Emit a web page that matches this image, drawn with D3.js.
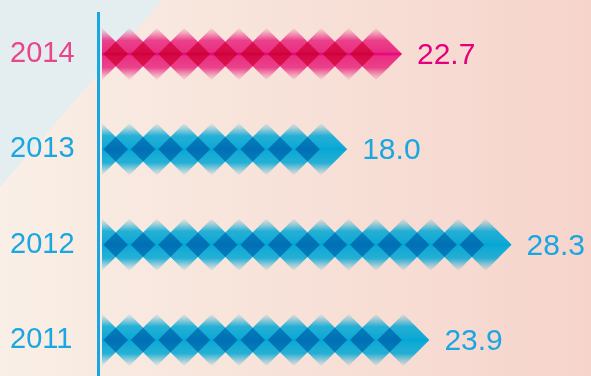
<!DOCTYPE html>
<html>
<head>
<meta charset="utf-8">
<script src="https://cdn.jsdelivr.net/npm/d3@7"></script>
<style>
  html, body { margin: 0; padding: 0; }
  svg { display: block; }
  text { font-family: "Liberation Sans", Arial, sans-serif; }
</style>
</head>
<body>
<div class="container"></div>
<script>
// data
const years = ['2014', '2013', '2012', '2011'];
const values = [22.7, 18.0, 28.3, 23.9];
const highlightYear = '2014';

const width = 591, height = 376;
const axisX = 98.5;
const barStart = 102;
const step = 27.4;   // spacing between diamonds
const half = 26;     // half size of one diamond

const pink = {label: '#e8458c', value: '#e4007c', fill: '#e8247c', mid: '#e4007e'};
const blue = {label: '#1aa7e1', value: '#1aa7e1', fill: '#00a6d4', mid: '#00a6d8'};

const svg = d3.select('.container')
    .append('svg')
    .attr('width', width)
    .attr('height', height);

const defs = svg.append('defs');

// background gradient, cream -> pink
const bg = defs.append('linearGradient').attr('id', 'bg')
    .attr('x1', 0).attr('x2', 1).attr('y1', 0).attr('y2', 0);
bg.append('stop').attr('offset', '0%').attr('stop-color', '#f9efe6');
bg.append('stop').attr('offset', '100%').attr('stop-color', '#f6d4cb');

svg.append('rect').attr('width', width).attr('height', height).attr('fill', 'url(#bg)');
svg.append('path')
    .attr('d', 'M0,0 L162,0 L0,187 Z')
    .attr('fill', '#e4eef0');

// diamond fill gradients, fading at top and bottom
function diamondGradient(id, c) {
    const g = defs.append('linearGradient').attr('id', id)
        .attr('x1', 0).attr('x2', 0).attr('y1', 0).attr('y2', 1);
    [[0, c.fill, 0.05], [0.1, c.fill, 0.35], [0.24, c.fill, 0.85], [0.46, c.fill, 0.95],
     [0.5, c.mid, 1], [0.54, c.fill, 0.95], [0.76, c.fill, 0.85], [0.9, c.fill, 0.35], [1, c.fill, 0.05]]
        .forEach(s => g.append('stop')
            .attr('offset', s[0]).attr('stop-color', s[1]).attr('stop-opacity', s[2]));
}
diamondGradient('gPink', pink);
diamondGradient('gBlue', blue);

// scales
const y = d3.scalePoint().domain(years).range([54, 340]);
// bar length from the axis, axis is cut at 10
const x = d3.scaleLinear().domain([10, 30]).range([barStart, 431]);

const rows = years.map((yr, i) => {
    const len = x(values[i]);
    const n = Math.round((len - half) / step) + 1; // whole diamonds only
    return {year: yr, value: values[i], n: n, tip: barStart + (n - 1) * step + half};
});

defs.append('clipPath').attr('id', 'barClip')
    .append('rect').attr('x', barStart).attr('y', 0).attr('width', width).attr('height', height);

const bars = svg.append('g').attr('clip-path', 'url(#barClip)')
    .selectAll('g')
    .data(rows)
    .enter().append('g')
    .attr('transform', d => `translate(0,${y(d.year)})`);

bars.selectAll('path')
    .data(d => d3.range(d.n).map(k => ({k: k, hi: d.year === highlightYear})))
    .enter().append('path')
    .attr('d', d => {
        const cx = barStart + d.k * step;
        return `M${cx - half},0 L${cx},${-half} L${cx + half},0 L${cx},${half} Z`;
    })
    .attr('fill', d => d.hi ? 'url(#gPink)' : 'url(#gBlue)')
    .style('mix-blend-mode', 'multiply');

// axis line
svg.append('line')
    .attr('x1', axisX).attr('x2', axisX)
    .attr('y1', 12).attr('y2', height)
    .attr('stroke', '#1aa7e1')
    .attr('stroke-width', 3);

// year labels
svg.append('g').selectAll('text')
    .data(rows)
    .enter().append('text')
    .attr('x', 10)
    .attr('y', d => y(d.year) + 8)
    .attr('font-size', 29)
    .attr('fill', d => d.year === highlightYear ? pink.label : blue.label)
    .text(d => d.year);

// value labels
svg.append('g').selectAll('text')
    .data(rows)
    .enter().append('text')
    .attr('x', d => d.tip + 15)
    .attr('y', d => y(d.year) + 10)
    .attr('font-size', 30)
    .attr('fill', d => d.year === highlightYear ? pink.value : blue.value)
    .text(d => d.value.toFixed(1));
</script>
</body>
</html>
